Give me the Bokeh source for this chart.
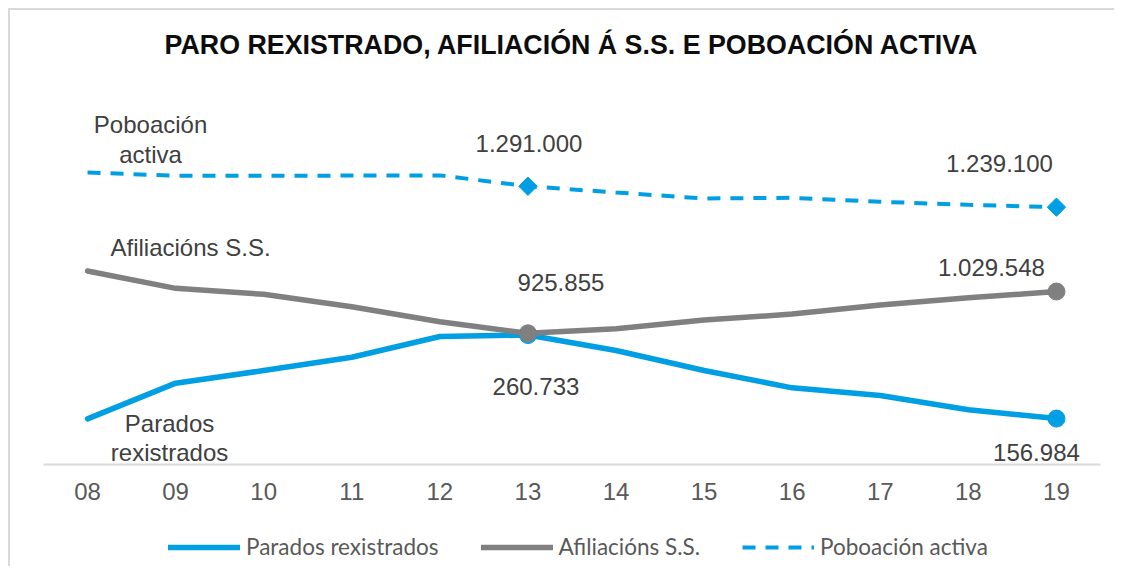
from bokeh.plotting import figure
from bokeh.layouts import column
from bokeh.models import Range1d, FixedTicker, Legend, LegendItem, Label
from bokeh.embed import file_html
from bokeh.resources import INLINE
from bokeh.core.properties import value

# ---------------- data ----------------
years = ["08", "09", "10", "11", "12", "13", "14", "15", "16", "17", "18", "19"]
parados = [156700, 201000, 216700, 233200, 258900, 260733, 241600, 216700,
           195200, 185700, 167900, 156984]
afiliacions = [1080600, 1037500, 1022600, 991700, 954300, 925855, 937000,
               958600, 973500, 995900, 1014100, 1029548]
poboacion = [1325300, 1317100, 1317100, 1317500, 1318000, 1291000, 1275500,
             1260600, 1262300, 1252400, 1244900, 1239100]
highlight = [5, 11]  # years 13 and 19 get markers + data labels

title_text = "PARO REXISTRADO, AFILIACIÓN Á S.S. E POBOACIÓN ACTIVA"
series_names = ["Parados rexistrados", "Afiliacións S.S.", "Poboación activa"]

# hidden value axes of the original chart (primary / secondary)
PRI_MIN, PRI_MAX = 600000, 1500000
SEC_MIN, SEC_MAX = 100000, 550000

BLUE = "#009fe3"
GREY = "#808080"
LBL = "#404040"
FONT = "Liberation Sans"

SOLID_BLUE = dict(line_color=BLUE, line_width=5.5, line_cap="round", line_join="round")
SOLID_GREY = dict(line_color=GREY, line_width=5.5, line_cap="round", line_join="round")
DASHED_BLUE = dict(line_color=BLUE, line_width=4, line_dash="13 10")

def fmt(v):
    return f"{v:,}".replace(",", ".")

x = list(range(len(years)))

# the frame also covers the title band above the plot area
PLOT_AREA_H = 362.4
FRAME_H = 454
ext = FRAME_H / PLOT_AREA_H

p = figure(width=1104, height=500, output_backend="svg", toolbar_location=None,
           x_range=Range1d(-0.5, 11.5),
           y_range=Range1d(PRI_MIN, PRI_MIN + (PRI_MAX - PRI_MIN) * ext),
           y_axis_location=None, min_border_left=33, min_border_right=14,
           min_border_top=0, min_border_bottom=46)
p.extra_y_ranges = {"sec": Range1d(SEC_MIN, SEC_MIN + (SEC_MAX - SEC_MIN) * ext)}
p.outline_line_color = None
p.grid.visible = False
p.background_fill_color = "white"
p.border_fill_color = "white"

ax = p.xaxis[0]
ax.ticker = FixedTicker(ticks=x)
ax.major_label_overrides = {i: y for i, y in enumerate(years)}
ax.axis_line_color = "#d9d9d9"
ax.axis_line_width = 2
ax.major_tick_line_color = None
ax.minor_tick_line_color = None
ax.major_label_standoff = 12
ax.major_label_text_font = FONT
ax.major_label_text_font_size = "24px"
ax.major_label_text_color = "#595959"

# title
p.add_layout(Label(x=(x[0] + x[-1]) / 2, y=FRAME_H - 34, y_units="screen",
                   text=title_text, text_font=FONT, text_font_size="26.8px",
                   text_font_style="bold", text_color="#0d0d0d",
                   text_align="center", text_baseline="middle"))

# ---------------- lines ----------------
p.line(x, parados, y_range_name="sec", **SOLID_BLUE)
p.line(x, afiliacions, **SOLID_GREY)
p.line(x, poboacion, **DASHED_BLUE)

hx = [x[i] for i in highlight]
p.scatter(hx, [parados[i] for i in highlight], y_range_name="sec", size=17,
          marker="circle", fill_color=BLUE, line_color=BLUE)
p.scatter(hx, [afiliacions[i] for i in highlight], size=17, marker="circle",
          fill_color=GREY, line_color=GREY)
p.scatter(hx, [poboacion[i] for i in highlight], size=13, marker="square",
          angle=0.785398, fill_color=BLUE, line_color=BLUE)

# ---------------- data labels ----------------
common = dict(text_font=value(FONT), text_font_size="24px", text_color=LBL,
              text_align="center", text_baseline="middle")
p.text(hx, [parados[i] for i in highlight], text=[fmt(parados[i]) for i in highlight],
       y_range_name="sec", x_offset=[8, -20], y_offset=[51, 34], **common)
p.text(hx, [afiliacions[i] for i in highlight], text=[fmt(afiliacions[i]) for i in highlight],
       x_offset=[33, -65], y_offset=[-51, -24], **common)
p.text(hx, [poboacion[i] for i in highlight], text=[fmt(poboacion[i]) for i in highlight],
       x_offset=[1, -57], y_offset=[-43, -44], **common)

# ---------------- series name labels ----------------
p.text([x[0]], [parados[0]], text=["Parados\nrexistrados"], y_range_name="sec",
       x_offset=[82], y_offset=[19], text_line_height=1.08, **common)
p.text([x[0]], [afiliacions[0]], text=["Afiliacións S.S."],
       x_offset=[103], y_offset=[-23], **common)
p.text([x[0]], [poboacion[0]], text=["Poboación\nactiva"],
       x_offset=[63], y_offset=[-33], text_line_height=1.08, **common)

# ---------------- legend (separate strip below the chart) ----------------
# the same series are drawn here outside the visible x range; only their
# legend entries show in this strip
pl = figure(width=1104, height=56, output_backend="svg", toolbar_location=None,
            x_range=Range1d(100, 101), y_range=Range1d(0, 1),
            x_axis_location=None, y_axis_location=None,
            min_border_left=0, min_border_right=0, min_border_top=0, min_border_bottom=0)
pl.outline_line_color = None
pl.grid.visible = False
lr_par = pl.line(x, parados, **SOLID_BLUE)
lr_afi = pl.line(x, afiliacions, **SOLID_GREY)
lr_pob = pl.line(x, poboacion, **DASHED_BLUE)
legend = Legend(items=[LegendItem(label=series_names[0], renderers=[lr_par]),
                       LegendItem(label=series_names[1], renderers=[lr_afi]),
                       LegendItem(label=series_names[2], renderers=[lr_pob])],
                orientation="horizontal", location=(125, 6),
                glyph_width=72, glyph_height=24, label_height=24,
                label_standoff=6, spacing=42, padding=0, margin=0,
                border_line_color=None, background_fill_alpha=0,
                label_text_font="Lato", label_text_font_size="22.5px",
                label_text_color="#595959")
pl.add_layout(legend, "center")

layout = column(p, pl, spacing=0)
layout.styles = {"margin-left": "8px", "margin-top": "8px",
                 "border-left": "2px solid #d9d9d9", "border-top": "2px solid #d9d9d9"}

open("out.html", "w").write(file_html(layout, INLINE))
